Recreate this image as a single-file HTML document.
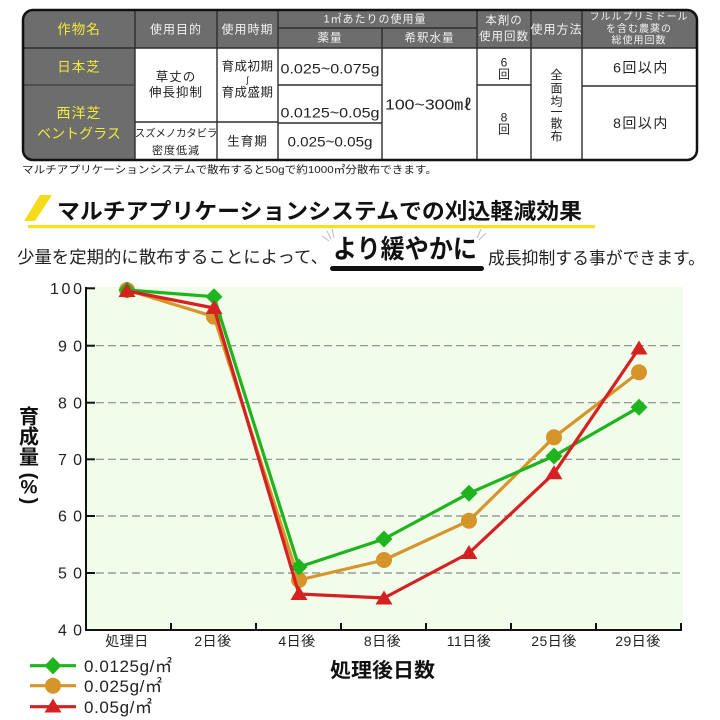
<!DOCTYPE html>
<html>
<head>
<meta charset="utf-8">
<style>
  html,body{margin:0;padding:0;background:#fff;}
  svg{display:block;}
  text{font-family:"Liberation Sans","Noto Sans CJK JP",sans-serif;}
</style>
</head>
<body>
<svg width="720" height="720" viewBox="0 0 720 720" xmlns="http://www.w3.org/2000/svg">
  <rect x="0" y="0" width="720" height="720" fill="#fff"/>

  <!-- ================= TABLE ================= -->
  <defs>
    <clipPath id="tc"><rect x="23" y="10" width="674" height="150" rx="10"/></clipPath>
  </defs>
  <g clip-path="url(#tc)">
    <rect x="23" y="10" width="674" height="150" fill="#fff"/>
    <rect x="23" y="10" width="674" height="38" fill="#6d6d6d"/>
    <rect x="23" y="48" width="112" height="112" fill="#6d6d6d"/>
    <g stroke="#2e2e2e" stroke-width="1.4">
      <line x1="135" y1="10" x2="135" y2="160"/>
      <line x1="217" y1="10" x2="217" y2="160"/>
      <line x1="278" y1="10" x2="278" y2="160"/>
      <line x1="382" y1="28" x2="382" y2="160"/>
      <line x1="477" y1="10" x2="477" y2="160"/>
      <line x1="531" y1="10" x2="531" y2="160"/>
      <line x1="582" y1="10" x2="582" y2="160"/>
      <line x1="278" y1="28" x2="477" y2="28"/>
      <line x1="23" y1="48" x2="697" y2="48"/>
      <line x1="135" y1="122" x2="278" y2="122"/>
      <line x1="278" y1="85" x2="382" y2="85"/>
      <line x1="278" y1="123" x2="382" y2="123"/>
      <line x1="477" y1="85" x2="531" y2="85"/>
      <line x1="582" y1="86" x2="697" y2="86"/>
    </g>
    <line x1="23" y1="85" x2="135" y2="85" stroke="#444" stroke-width="1.4"/>
  </g>
  <rect x="23" y="10" width="674" height="150" rx="10" fill="none" stroke="#111" stroke-width="2.5"/>

  <!-- header texts -->
  <g font-size="12" fill="#f2f2f2" text-anchor="middle" dominant-baseline="central">
    <text x="79" y="29.5" font-size="13.5" fill="#f2ea3c" letter-spacing="1">作物名</text>
    <text x="176" y="29.5" letter-spacing="1">使用目的</text>
    <text x="247.5" y="29.5" letter-spacing="1">使用時期</text>
    <text x="375" y="19.5" font-size="11" letter-spacing="1">1㎡あたりの使用量</text>
    <text x="330" y="38.5" font-size="11.5" letter-spacing="1">薬量</text>
    <text x="429.5" y="38.5" font-size="11.5" letter-spacing="1">希釈水量</text>
    <text x="504" y="21" font-size="11.5" letter-spacing="1">本剤の</text>
    <text x="504" y="37" font-size="11.5" letter-spacing="1">使用回数</text>
    <text x="556.5" y="29.5" letter-spacing="1">使用方法</text>
    <text x="639" y="17.5" font-size="10" letter-spacing="1">フルルプリミドール</text>
    <text x="639" y="29.5" font-size="10" letter-spacing="1">を含む農薬の</text>
    <text x="639" y="41" font-size="10" letter-spacing="1">総使用回数</text>
  </g>

  <!-- body texts -->
  <g font-size="12.5" fill="#222" text-anchor="middle" dominant-baseline="central">
    <text x="79" y="67" font-size="13.5" fill="#f2ea3c" letter-spacing="1">日本芝</text>
    <text x="79" y="113" font-size="14" fill="#f2ea3c" letter-spacing="1">西洋芝</text>
    <text x="79" y="133.5" font-size="14" fill="#f2ea3c">ベントグラス</text>

    <text x="176" y="77" letter-spacing="1">草丈の</text>
    <text x="176" y="92.5" letter-spacing="1">伸長抑制</text>
    <text x="176" y="133.5" font-size="10.5" letter-spacing="-0.2">スズメノカタビラ</text>
    <text x="176" y="151" font-size="11" letter-spacing="1">密度低減</text>

    <text x="247.5" y="66.5" letter-spacing="0.5">育成初期</text>
    <text x="247.5" y="80" font-size="9">∫</text>
    <text x="247.5" y="92.5" letter-spacing="0.5">育成盛期</text>
    <text x="247.5" y="141.5" letter-spacing="1">生育期</text>

    <text x="330" y="68.5" font-size="14" textLength="99" lengthAdjust="spacingAndGlyphs">0.025~0.075g</text>
    <text x="330" y="112.5" font-size="14" textLength="99" lengthAdjust="spacingAndGlyphs">0.0125~0.05g</text>
    <text x="330" y="141.5" font-size="14" textLength="85" lengthAdjust="spacingAndGlyphs">0.025~0.05g</text>

    <text x="428.5" y="105" font-size="15" textLength="87" lengthAdjust="spacingAndGlyphs">100~300㎖</text>

    <text x="504" y="62.5" font-size="12">6</text>
    <text x="504" y="74.5" font-size="12">回</text>
    <text x="504" y="117.5" font-size="12">8</text>
    <text x="504" y="129.5" font-size="12">回</text>

    <text x="556.5" y="75" font-size="12">全</text>
    <text x="556.5" y="88.5" font-size="12">面</text>
    <text x="556.5" y="101.5" font-size="12">均</text>
    <text x="556.5" y="112" font-size="12">一</text>
    <text x="556.5" y="123.5" font-size="12">散</text>
    <text x="556.5" y="136.5" font-size="12">布</text>

    <text x="641" y="67.5" font-size="14" letter-spacing="1.5">6回以内</text>
    <text x="641" y="123" font-size="14" letter-spacing="1.5">8回以内</text>
  </g>

  <text x="22" y="173" font-size="10.5" fill="#222" textLength="415" lengthAdjust="spacingAndGlyphs">マルチアプリケーションシステムで散布すると50gで約1000㎡分散布できます。</text>

  <!-- ================= TITLE ================= -->
  <polygon points="40,195 52,195 35,221 24,221" fill="#f5dc1a"/>
  <rect x="28" y="225" width="567" height="3.2" fill="#f5e11c"/>
  <text x="57" y="219" font-size="22" font-weight="bold" fill="#111" textLength="525" lengthAdjust="spacingAndGlyphs">マルチアプリケーションシステムでの刈込軽減効果</text>

  <g stroke="#bbb" stroke-width="1" fill="none">
    <line x1="327" y1="231" x2="331" y2="239"/>
    <line x1="332" y1="229" x2="334" y2="238"/>
    <line x1="322" y1="236" x2="329" y2="241"/>
    <line x1="481" y1="229" x2="477" y2="238"/>
    <line x1="486" y1="233" x2="479" y2="240"/>
  </g>

  <text x="17" y="263" font-size="17" fill="#222" textLength="311" lengthAdjust="spacingAndGlyphs">少量を定期的に散布することによって、</text>
  <text x="333" y="258" font-size="26" font-weight="bold" fill="#111" textLength="144" lengthAdjust="spacingAndGlyphs">より緩やかに</text>
  <rect x="330" y="266" width="154" height="5" rx="2.5" fill="#111"/>
  <text x="488" y="264" font-size="17" fill="#222" textLength="217" lengthAdjust="spacingAndGlyphs">成長抑制する事ができます。</text>

  <!-- ================= CHART ================= -->
  <rect x="87" y="287" width="596" height="343" fill="#f2fcea"/>
  <g stroke="#8a8a8a" stroke-width="1.2" stroke-dasharray="8 4">
    <line x1="96" y1="345.7" x2="681" y2="345.7"/>
    <line x1="96" y1="402.7" x2="681" y2="402.7"/>
    <line x1="96" y1="459.3" x2="681" y2="459.3"/>
    <line x1="96" y1="516" x2="681" y2="516"/>
    <line x1="96" y1="573" x2="681" y2="573"/>
  </g>
  <g stroke="#111" stroke-width="2">
    <line x1="86" y1="287" x2="86" y2="631"/>
    <line x1="85" y1="630" x2="682" y2="630"/>
    <line x1="86" y1="288.3" x2="95" y2="288.3"/>
    <line x1="86" y1="345.7" x2="95" y2="345.7"/>
    <line x1="86" y1="402.7" x2="95" y2="402.7"/>
    <line x1="86" y1="459.3" x2="95" y2="459.3"/>
    <line x1="86" y1="516" x2="95" y2="516"/>
    <line x1="86" y1="573" x2="95" y2="573"/>
    <line x1="171" y1="623" x2="171" y2="630"/>
    <line x1="256" y1="623" x2="256" y2="630"/>
    <line x1="341" y1="623" x2="341" y2="630"/>
    <line x1="426" y1="623" x2="426" y2="630"/>
    <line x1="511" y1="623" x2="511" y2="630"/>
    <line x1="596" y1="623" x2="596" y2="630"/>
    <line x1="681" y1="623" x2="681" y2="630"/>
  </g>
  <g font-size="16" fill="#222" lengthAdjust="spacing">
    <text x="50" y="294" textLength="32">100</text>
    <text x="58" y="351.5" textLength="24">90</text>
    <text x="58" y="408.5" textLength="24">80</text>
    <text x="58" y="465" textLength="24">70</text>
    <text x="58" y="521.5" textLength="24">60</text>
    <text x="58" y="578.5" textLength="24">50</text>
    <text x="58" y="635.5" textLength="24">40</text>
  </g>
  <g font-size="14" fill="#222" text-anchor="middle">
    <text x="127" y="646" letter-spacing="0.5">処理日</text>
    <text x="213" y="646" letter-spacing="0.5">2日後</text>
    <text x="297" y="646" letter-spacing="0.5">4日後</text>
    <text x="382.5" y="646" letter-spacing="0.5">8日後</text>
    <text x="469" y="646" letter-spacing="0.5">11日後</text>
    <text x="554" y="646" letter-spacing="0.5">25日後</text>
    <text x="638" y="646" letter-spacing="0.5">29日後</text>
  </g>
  <text x="330" y="677" font-size="20" font-weight="bold" fill="#111" textLength="105" lengthAdjust="spacingAndGlyphs">処理後日数</text>

  <!-- y title -->
  <g font-size="20" font-weight="bold" fill="#111" text-anchor="middle" dominant-baseline="central">
    <text x="29" y="417.5">育</text>
    <text x="29" y="437.5">成</text>
    <text x="29" y="458">量</text>
    <text transform="translate(29,476) rotate(90)" font-size="20">(</text>
    <text x="29" y="488" font-size="19">%</text>
    <text transform="translate(29,501) rotate(90)" font-size="20">)</text>
  </g>

  <!-- series: orange -->
  <polyline points="127,290 214,316.7 299,580 384,560 469,520.7 554,437.3 639,372.3" fill="none" stroke="#d6952b" stroke-width="3.2" stroke-linejoin="round"/>
  <g fill="#d6952b">
    <circle cx="127" cy="290" r="8"/>
    <circle cx="214" cy="316.7" r="8"/>
    <circle cx="299" cy="580" r="8"/>
    <circle cx="384" cy="560" r="8"/>
    <circle cx="469" cy="520.7" r="8"/>
    <circle cx="554" cy="437.3" r="8"/>
    <circle cx="639" cy="372.3" r="8"/>
  </g>
  <!-- series: green -->
  <polyline points="127,290 214,296.7 299,567 384,539 469,493.3 554,456 639,407.3" fill="none" stroke="#1eb41e" stroke-width="3.2" stroke-linejoin="round"/>
  <g fill="#1eb41e">
    <polygon points="127,281.5 135.5,290 127,298.5 118.5,290"/>
    <polygon points="214,288.2 222.5,296.7 214,305.2 205.5,296.7"/>
    <polygon points="299,558.5 307.5,567 299,575.5 290.5,567"/>
    <polygon points="384,530.5 392.5,539 384,547.5 375.5,539"/>
    <polygon points="469,484.8 477.5,493.3 469,501.8 460.5,493.3"/>
    <polygon points="554,447.5 562.5,456 554,464.5 545.5,456"/>
    <polygon points="639,398.8 647.5,407.3 639,415.8 630.5,407.3"/>
  </g>
  <!-- series: red -->
  <polyline points="127,291 214,308 299,594 384,598 469,553 554,473.3 639,348.3" fill="none" stroke="#d52121" stroke-width="3.2" stroke-linejoin="round"/>
  <g fill="#d52121">
    <polygon points="127,283 135.5,297 118.5,297"/>
    <polygon points="214,300 222.5,314 205.5,314"/>
    <polygon points="299,586 307.5,600 290.5,600"/>
    <polygon points="384,590.5 392.5,604.5 375.5,604.5"/>
    <polygon points="469,545 477.5,559 460.5,559"/>
    <polygon points="554,465.3 562.5,479.3 545.5,479.3"/>
    <polygon points="639,340.5 647.5,354.5 630.5,354.5"/>
  </g>

  <!-- legend -->
  <line x1="30" y1="665.7" x2="76" y2="665.7" stroke="#1eb41e" stroke-width="3.2"/>
  <polygon points="53,657 61.5,665.7 53,674.4 44.5,665.7" fill="#1eb41e"/>
  <line x1="30" y1="685.7" x2="76" y2="685.7" stroke="#d6952b" stroke-width="3.2"/>
  <circle cx="53" cy="685.7" r="8" fill="#d6952b"/>
  <line x1="30" y1="706.7" x2="76" y2="706.7" stroke="#d52121" stroke-width="3.2"/>
  <polygon points="53,698.5 61.5,712.5 44.5,712.5" fill="#d52121"/>
  <g font-size="17" fill="#222" lengthAdjust="spacingAndGlyphs">
    <text x="84" y="672" textLength="88">0.0125g/㎡</text>
    <text x="84" y="692" textLength="78">0.025g/㎡</text>
    <text x="84" y="713" textLength="68">0.05g/㎡</text>
  </g>
</svg>
</body>
</html>
